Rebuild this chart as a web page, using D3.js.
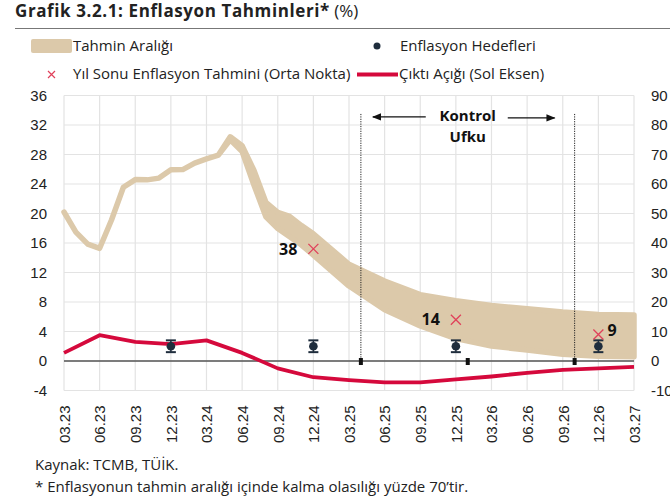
<!DOCTYPE html>
<html>
<head>
<meta charset="utf-8">
<script src="https://cdn.jsdelivr.net/npm/d3@7"></script>
<style>
  body { margin: 0; background: #fff; }
  svg { font-family: "Open Sans", sans-serif; }
  .grid line { stroke: #e3e3e3; stroke-width: 1.2; }
  .axis text { fill: #222; font-size: 15px; }
  .legend text { fill: #222; font-size: 15px; }
</style>
</head>
<body>
<div id="chart"></div>
<script>
// band: history (low = high) then forecast range, values in %
var bandDates = ["03.23","04.23","05.23","06.23","07.23","08.23","09.23","10.23","11.23","12.23",
                 "01.24","02.24","03.24","04.24","05.24","06.24","07.24","08.24","09.24","10.24",
                 "11.24","12.24","03.25","06.25","09.25","12.25","03.26","06.26","09.26","12.26","03.27"];
var bandLow  = [50.5,43.7,39.6,38.2,47.8,58.9,61.5,61.4,62.0,64.8,
                64.9,67.1,68.5,69.8,75.0,71.0,59.6,48.9,44.9,42.1,
                39.3,35.9,25.4,17.4,11.9,7.6,5.1,3.7,2.3,1.6,1.4];
var bandHigh = [50.5,43.7,39.6,38.2,47.8,58.9,61.5,61.4,62.0,64.8,
                64.9,67.1,68.5,69.8,76.0,73.0,64.6,53.8,50.4,49.0,
                45.9,43.1,32.8,27.1,22.5,20.4,18.8,17.7,16.6,15.8,15.6];

// output gap (left axis)
var gapDates  = ["03.23","06.23","09.23","12.23","03.24","06.24","09.24","12.24","03.25",
                 "06.25","09.25","12.25","03.26","06.26","09.26","12.26","03.27"];
var gapValues = [1.1,3.5,2.6,2.3,2.8,1.1,-1.0,-2.2,-2.6,-2.9,-2.9,-2.5,-2.1,-1.6,-1.2,-1.0,-0.8];

// inflation targets with uncertainty band
var targetDates  = ["12.23","12.24","12.25","12.26"];
var targetValues = [5,5,5,5];
var targetLow    = [3,3,3,3];
var targetHigh   = [7,7,7,7];

// year end midpoint forecasts
var yeDates  = ["12.24","12.25","12.26"];
var yeValues = [38,14,9];

// control horizon
var horizonDates = ["04.25","10.26"];
var horizonMarks = ["04.25","01.26","10.26"];

var xTicks = ["03.23","06.23","09.23","12.23","03.24","06.24","09.24","12.24","03.25",
              "06.25","09.25","12.25","03.26","06.26","09.26","12.26","03.27"];
var leftTicks  = [-4,0,4,8,12,16,20,24,28,32,36];
var rightTicks = [-10,0,10,20,30,40,50,60,70,80,90];

// "MM.YY" -> months since 03.23
function mIdx(s) {
  var p = s.split(".");
  return (+p[1] - 23) * 12 + (+p[0] - 3);
}

var width = 670, height = 500;
var margin = {top: 95.5, right: 36, bottom: 109.5, left: 64};
var chartWidth = width - margin.left - margin.right;
var chartHeight = height - margin.top - margin.bottom;

var svg = d3.select("#chart").append("svg")
    .attr("width", width)
    .attr("height", height);

// title
var title = svg.append("text")
    .attr("x", 15).attr("y", 17)
    .style("font-size", "17px").style("fill", "#222");
title.append("tspan").style("font-weight", "700").style("letter-spacing", "0.6px")
  .text("Grafik 3.2.1: Enflasyon Tahminleri*");
title.append("tspan").style("font-weight", "400").text(" (%)");

svg.append("line")
    .attr("x1", 15).attr("x2", width)
    .attr("y1", 28.5).attr("y2", 28.5)
    .attr("stroke", "#777").attr("stroke-width", 1.2);

var g = svg.append("g")
    .attr("transform", `translate(${margin.left}, ${margin.top})`);

var xScale = d3.scaleLinear()
    .domain([0, 48])
    .range([0, chartWidth]);

var yScale = d3.scaleLinear()
    .domain([-4, 36])
    .range([chartHeight, 0]);

var yRight = d3.scaleLinear()
    .domain([-10, 90])
    .range([chartHeight, 0]);

// gridlines
g.append("g").attr("class", "grid")
  .selectAll("line").data(xTicks).enter().append("line")
    .attr("x1", d => xScale(mIdx(d))).attr("x2", d => xScale(mIdx(d)))
    .attr("y1", 0).attr("y2", chartHeight);
g.append("g").attr("class", "grid")
  .selectAll("line").data(leftTicks).enter().append("line")
    .attr("x1", 0).attr("x2", chartWidth)
    .attr("y1", d => yScale(d)).attr("y2", d => yScale(d));

// axes
var yAxis = d3.axisLeft(yScale).tickValues(leftTicks).tickFormat(d => String(d))
    .tickSize(0).tickPadding(17);
g.append("g").attr("class", "y axis").call(yAxis)
  .call(a => a.select(".domain").remove());

var yAxisR = d3.axisRight(yRight).tickValues(rightTicks).tickFormat(d => String(d))
    .tickSize(0).tickPadding(17);
g.append("g").attr("class", "y axis")
  .attr("transform", `translate(${chartWidth},0)`)
  .call(yAxisR)
  .call(a => a.select(".domain").remove());

var xAxis = d3.axisBottom(xScale)
    .tickValues(xTicks.map(mIdx))
    .tickFormat((d, i) => xTicks[i])
    .tickSize(0);
g.append("g").attr("class", "x axis")
  .attr("transform", `translate(0,${chartHeight})`)
  .call(xAxis)
  .call(a => a.select(".domain").remove())
  .selectAll("text")
    .attr("transform", "rotate(-90)")
    .attr("text-anchor", "end")
    .attr("x", -15)
    .attr("y", 0)
    .attr("dy", "0.35em");

// forecast band
var bandData = bandDates.map((d, i) => ({m: mIdx(d), lo: bandLow[i], hi: bandHigh[i]}));
var area = d3.area()
    .x(d => xScale(d.m))
    .y0(d => yRight(d.lo))
    .y1(d => yRight(d.hi));
g.append("path")
  .datum(bandData)
  .attr("d", area)
  .attr("fill", "#dcc9aa")
  .attr("stroke", "#dcc9aa")
  .attr("stroke-width", 5.5)
  .attr("stroke-linejoin", "round");

// zero line
g.append("line")
  .attr("x1", 0).attr("x2", chartWidth)
  .attr("y1", yScale(0)).attr("y2", yScale(0))
  .attr("stroke", "#555").attr("stroke-width", 1.3);

// control horizon
var hTop = yScale(33.5);
g.selectAll(".hline").data(horizonDates).enter().append("line")
  .attr("class", "hline")
  .attr("x1", d => xScale(mIdx(d))).attr("x2", d => xScale(mIdx(d)))
  .attr("y1", hTop).attr("y2", yScale(0))
  .attr("stroke", "#222").attr("stroke-width", 1)
  .attr("stroke-dasharray", "1.2,1.2");
g.selectAll(".hmark").data(horizonMarks).enter().append("rect")
  .attr("class", "hmark")
  .attr("x", d => xScale(mIdx(d)) - 2).attr("y", yScale(0) - 3)
  .attr("width", 4).attr("height", 7)
  .attr("fill", "#111");

var hx0 = xScale(mIdx(horizonDates[0])), hx1 = xScale(mIdx(horizonDates[1]));
var hMid = (hx0 + hx1) / 2;
svg.append("defs").append("marker")
  .attr("id", "arr").attr("viewBox", "0 0 10 10")
  .attr("refX", 9).attr("refY", 5)
  .attr("markerWidth", 7).attr("markerHeight", 7)
  .attr("orient", "auto")
  .append("path").attr("d", "M0,1L10,5L0,9Z").attr("fill", "#111");
g.append("line")
  .attr("x1", hMid - 42).attr("x2", hx0 + 12)
  .attr("y1", hTop + 3).attr("y2", hTop + 3)
  .attr("stroke", "#111").attr("stroke-width", 1.3)
  .attr("marker-end", "url(#arr)");
g.append("line")
  .attr("x1", hMid + 40).attr("x2", hx1 - 20)
  .attr("y1", hTop + 4).attr("y2", hTop + 4)
  .attr("stroke", "#111").attr("stroke-width", 1.3)
  .attr("marker-end", "url(#arr)");
g.append("text")
  .attr("x", hMid).attr("y", hTop + 7)
  .attr("text-anchor", "middle")
  .style("font-size", "15px").style("font-weight", "700").style("fill", "#111")
  .text("Kontrol");
g.append("text")
  .attr("x", hMid).attr("y", hTop + 28)
  .attr("text-anchor", "middle")
  .style("font-size", "15px").style("font-weight", "700").style("fill", "#111")
  .text("Ufku");

// output gap
var gapLine = d3.line()
    .x((d, i) => xScale(mIdx(gapDates[i])))
    .y(d => yScale(d));
g.append("path")
  .datum(gapValues)
  .attr("d", gapLine)
  .attr("fill", "none")
  .attr("stroke", "#d5093c")
  .attr("stroke-width", 3.8)
  .attr("stroke-linejoin", "round");

// targets
var targets = g.selectAll(".target").data(targetDates).enter().append("g")
  .attr("class", "target")
  .attr("transform", d => `translate(${xScale(mIdx(d))},0)`);
targets.append("line")
  .attr("y1", (d, i) => yRight(targetLow[i])).attr("y2", (d, i) => yRight(targetHigh[i]))
  .attr("stroke", "#1f2d3d").attr("stroke-width", 1.5);
targets.append("line")
  .attr("x1", -5).attr("x2", 5)
  .attr("y1", (d, i) => yRight(targetLow[i])).attr("y2", (d, i) => yRight(targetLow[i]))
  .attr("stroke", "#1f2d3d").attr("stroke-width", 2);
targets.append("line")
  .attr("x1", -5).attr("x2", 5)
  .attr("y1", (d, i) => yRight(targetHigh[i])).attr("y2", (d, i) => yRight(targetHigh[i]))
  .attr("stroke", "#1f2d3d").attr("stroke-width", 2);
targets.append("circle")
  .attr("cy", (d, i) => yRight(targetValues[i]))
  .attr("r", 4.3)
  .attr("fill", "#1f2d3d");

// year-end midpoints
var ye = g.selectAll(".ye").data(yeDates).enter().append("g")
  .attr("class", "ye")
  .attr("transform", (d, i) => `translate(${xScale(mIdx(d))},${yRight(yeValues[i])})`);
ye.append("path")
  .attr("d", "M-5,-5L5,5M-5,5L5,-5")
  .attr("stroke", "#e0405a").attr("stroke-width", 1.3);
ye.append("text")
  .attr("x", (d, i) => i === yeDates.length - 1 ? 9 : -16)
  .attr("y", (d, i) => i === yeDates.length - 1 ? -4 : 0)
  .attr("dy", "0.35em")
  .attr("text-anchor", (d, i) => i === yeDates.length - 1 ? "start" : "end")
  .style("font-size", "16px").style("font-weight", "700").style("fill", "#111")
  .text((d, i) => yeValues[i]);

// legend
var lg = svg.append("g").attr("class", "legend");
lg.append("rect").attr("x", 31).attr("y", 39).attr("width", 41).attr("height", 14)
  .attr("rx", 2).attr("fill", "#dcc9aa");
lg.append("text").attr("x", 73).attr("y", 51).text("Tahmin Aralığı");
lg.append("circle").attr("cx", 377).attr("cy", 46).attr("r", 3.5).attr("fill", "#1f2d3d");
lg.append("text").attr("x", 400).attr("y", 51).text("Enflasyon Hedefleri");
lg.append("path").attr("d", "M48,71L55,78M48,78L55,71")
  .attr("stroke", "#e0405a").attr("stroke-width", 1.2);
lg.append("text").attr("x", 73).attr("y", 79).text("Yıl Sonu Enflasyon Tahmini (Orta Nokta)");
lg.append("line").attr("x1", 357).attr("x2", 398).attr("y1", 74.5).attr("y2", 74.5)
  .attr("stroke", "#d5093c").attr("stroke-width", 3.8);
lg.append("text").attr("x", 399).attr("y", 79).text("Çıktı Açığı (Sol Eksen)");

// footer
svg.append("text").attr("x", 35).attr("y", 470)
  .style("font-size", "15px").style("fill", "#222")
  .text("Kaynak: TCMB, TÜİK.");
svg.append("text").attr("x", 35).attr("y", 492)
  .style("font-size", "15px").style("fill", "#222")
  .text("* Enflasyonun tahmin aralığı içinde kalma olasılığı yüzde 70’tir.");
</script>
</body>
</html>
